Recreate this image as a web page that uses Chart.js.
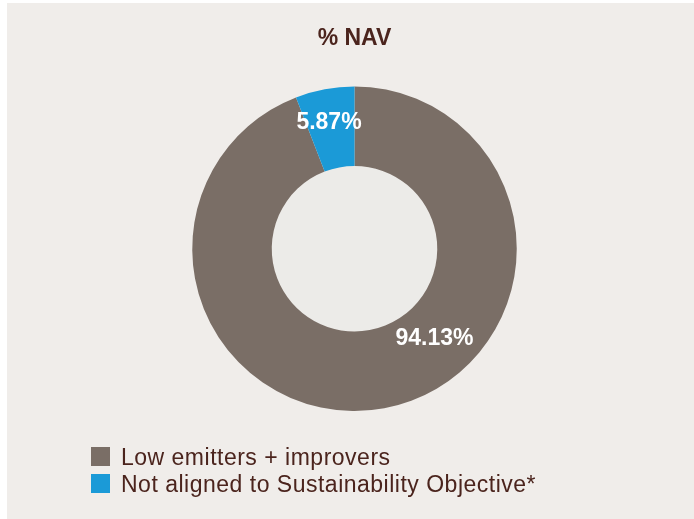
<!DOCTYPE html>
<html>
<head>
<meta charset="utf-8">
<script src="https://cdn.jsdelivr.net/npm/chart.js@4.4.1/dist/chart.umd.min.js"></script>
<style>
  html, body { margin: 0; padding: 0; background: #ffffff; }
  body { width: 694px; height: 519px; position: relative; overflow: hidden; font-family: "Liberation Sans", Arial, sans-serif; }
  .panel { position: absolute; left: 7px; top: 3px; right: 0; bottom: 0; background: #f0edea; }
  #chartWrap { position: absolute; left: 0; top: 0; width: 694px; height: 519px; }
  .legend { position: absolute; left: 91px; top: 447px; }
  .legend-item { height: 27px; display: flex; align-items: flex-start; }
  .legend-box { width: 19px; height: 19px; margin-right: 11px; flex: none; }
  .legend-text { font-size: 23px; line-height: 19px; color: #4b241d; letter-spacing: 0.5px; margin-top: 1px; }
</style>
</head>
<body>
<div class="panel"></div>
<div id="chartWrap"><canvas id="navChart" width="694" height="519"></canvas></div>
<div class="legend" id="legend"></div>
<script>
// 数据
const categories = ['Low emitters + improvers', 'Not aligned to Sustainability Objective*'];
const navValues = [94.13, 5.87];
const sliceColors = ['#7a6e66', '#1b9ad7'];
const valueLabels = ['94.13%', '5.87%'];
// 标签在扇区上的位置 (沿弧比例, 径向比例)
const labelAlong = [0.408, 0.46];
const labelRadial = [0.47, 0.58];

const textColor = '#4b241d';

// 内圆填充
const innerFill = {
  id: 'innerFill',
  beforeDatasetsDraw(chart) {
    const arc = chart.getDatasetMeta(0).data[0];
    if (!arc) return;
    const ctx = chart.ctx;
    ctx.save();
    ctx.fillStyle = '#ecebe8';
    ctx.beginPath();
    ctx.arc(arc.x, arc.y, arc.innerRadius, 0, Math.PI * 2);
    ctx.fill();
    ctx.restore();
  }
};

// 扇区数值标签
const sliceLabels = {
  id: 'sliceLabels',
  afterDatasetsDraw(chart) {
    const ctx = chart.ctx;
    const arcs = chart.getDatasetMeta(0).data;
    ctx.save();
    ctx.font = 'bold 23px "Liberation Sans", Arial, sans-serif';
    ctx.fillStyle = '#ffffff';
    ctx.textAlign = 'center';
    ctx.textBaseline = 'middle';
    arcs.forEach((arc, i) => {
      const a = arc.startAngle + (arc.endAngle - arc.startAngle) * labelAlong[i];
      const r = arc.innerRadius + (arc.outerRadius - arc.innerRadius) * labelRadial[i];
      ctx.fillText(valueLabels[i], arc.x + Math.cos(a) * r, arc.y + Math.sin(a) * r);
    });
    ctx.restore();
  }
};

new Chart(document.getElementById('navChart').getContext('2d'), {
  type: 'doughnut',
  data: {
    labels: categories,
    datasets: [{
      data: navValues,
      backgroundColor: sliceColors,
      borderWidth: 0
    }]
  },
  options: {
    responsive: false,
    animation: false,
    cutout: '51%',
    layout: {
      padding: { left: 15, right: 0, top: 0, bottom: 108 }
    },
    plugins: {
      legend: { display: false },
      tooltip: { enabled: false },
      title: {
        display: true,
        text: '% NAV',
        color: textColor,
        font: { family: '"Liberation Sans", Arial, sans-serif', size: 23, weight: 'bold', lineHeight: 1.2 },
        padding: { top: 25, bottom: 33.9 }
      }
    }
  },
  plugins: [innerFill, sliceLabels]
});

// 图例
const legendEl = document.getElementById('legend');
categories.forEach((name, i) => {
  const item = document.createElement('div');
  item.className = 'legend-item';
  item.innerHTML = '<div class="legend-box" style="background:' + sliceColors[i] + '"></div>' +
    '<div class="legend-text">' + name + '</div>';
  legendEl.appendChild(item);
});
</script>
</body>
</html>
